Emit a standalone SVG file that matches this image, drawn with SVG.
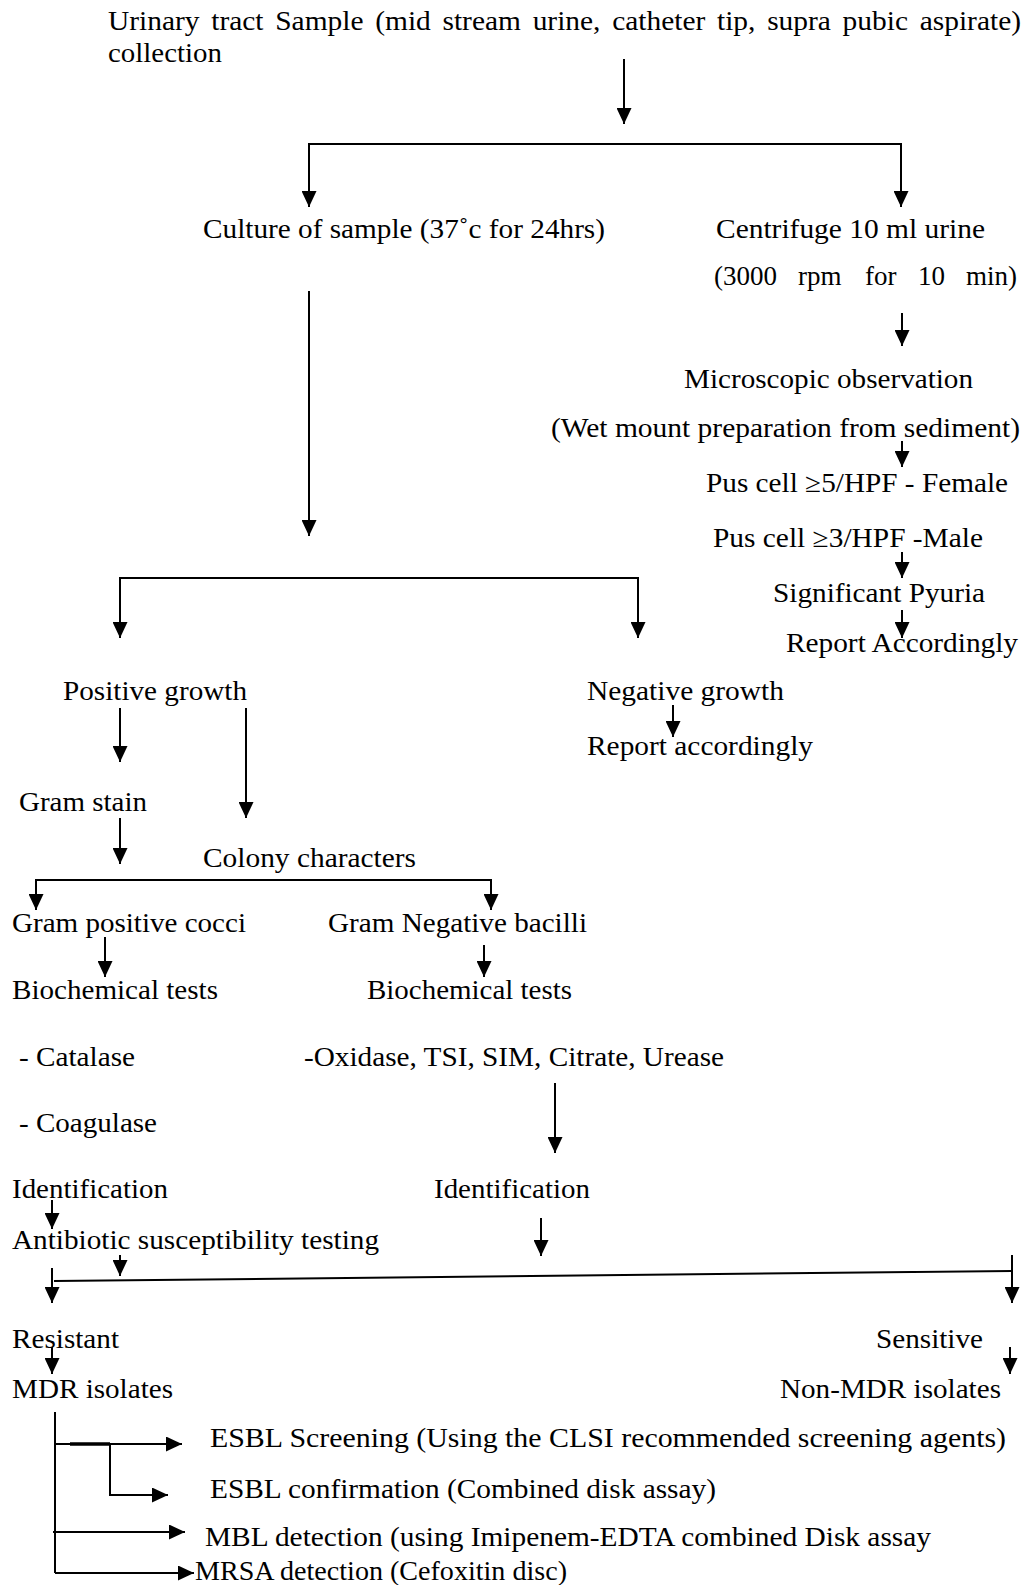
<svg xmlns="http://www.w3.org/2000/svg" width="1034" height="1585" viewBox="0 0 1034 1585" font-family="Liberation Serif, Times New Roman, serif" font-size="27">
<defs>
<marker id="ah" markerUnits="userSpaceOnUse" viewBox="0 0 16 15" markerWidth="16" markerHeight="15" refX="16" refY="7.5" orient="auto">
<path d="M0,0 L16,7.5 L0,15 z" fill="#000"/>
</marker>
<style>
text{fill:#000}
.c line,.c path,.c polyline{stroke:#000;stroke-width:2;fill:none}
.a{marker-end:url(#ah)}
</style>
</defs>
<rect width="1034" height="1585" fill="#fff"/>
<g id="n-sample">
<text x="108" y="30" textLength="913" lengthAdjust="spacingAndGlyphs" word-spacing="4">Urinary tract Sample (mid stream urine, catheter tip, supra pubic aspirate)</text>
<text x="108" y="62" textLength="114" lengthAdjust="spacingAndGlyphs">collection</text>
</g>
<g id="n-culture"><text x="203" y="238" textLength="402" lengthAdjust="spacingAndGlyphs">Culture of sample (37˚c for 24hrs)</text></g>
<g id="n-centrifuge">
<text x="716" y="238" textLength="269" lengthAdjust="spacingAndGlyphs">Centrifuge 10 ml urine</text>
<text y="285"><tspan x="714">(3000</tspan><tspan x="798">rpm</tspan><tspan x="865">for</tspan><tspan x="918">10</tspan><tspan x="966">min)</tspan></text>
</g>
<g id="n-micro">
<text x="684" y="388" textLength="289" lengthAdjust="spacingAndGlyphs">Microscopic observation</text>
<text x="551" y="437" textLength="469" lengthAdjust="spacingAndGlyphs">(Wet mount preparation from sediment)</text>
</g>
<g id="n-pus">
<text x="706" y="492" textLength="302" lengthAdjust="spacingAndGlyphs">Pus cell ≥5/HPF - Female</text>
<text x="713" y="547" textLength="270" lengthAdjust="spacingAndGlyphs">Pus cell ≥3/HPF -Male</text>
</g>
<g id="n-pyuria"><text x="773" y="602" textLength="212" lengthAdjust="spacingAndGlyphs">Significant Pyuria</text></g>
<g id="n-report1"><text x="786" y="652" textLength="232" lengthAdjust="spacingAndGlyphs">Report Accordingly</text></g>
<g id="n-positive"><text x="63" y="700" textLength="184" lengthAdjust="spacingAndGlyphs">Positive growth</text></g>
<g id="n-negative"><text x="587" y="700" textLength="197" lengthAdjust="spacingAndGlyphs">Negative growth</text></g>
<g id="n-report2"><text x="587" y="755" textLength="226" lengthAdjust="spacingAndGlyphs">Report accordingly</text></g>
<g id="n-gram"><text x="19" y="811" textLength="128" lengthAdjust="spacingAndGlyphs">Gram stain</text></g>
<g id="n-colony"><text x="203" y="867" textLength="213" lengthAdjust="spacingAndGlyphs">Colony characters</text></g>
<g id="n-gpc"><text x="12" y="932" textLength="234" lengthAdjust="spacingAndGlyphs">Gram positive cocci</text></g>
<g id="n-gnb"><text x="328" y="932" textLength="259" lengthAdjust="spacingAndGlyphs">Gram Negative bacilli</text></g>
<g id="n-bio1">
<text x="12" y="999" textLength="206" lengthAdjust="spacingAndGlyphs">Biochemical tests</text>
<text x="19" y="1066" textLength="116" lengthAdjust="spacingAndGlyphs">- Catalase</text>
<text x="19" y="1132" textLength="138" lengthAdjust="spacingAndGlyphs">- Coagulase</text>
</g>
<g id="n-bio2">
<text x="367" y="999" textLength="205" lengthAdjust="spacingAndGlyphs">Biochemical tests</text>
<text x="304" y="1066" textLength="420" lengthAdjust="spacingAndGlyphs">-Oxidase, TSI, SIM, Citrate, Urease</text>
</g>
<g id="n-ident1"><text x="12" y="1198" textLength="156" lengthAdjust="spacingAndGlyphs">Identification</text></g>
<g id="n-ident2"><text x="434" y="1198" textLength="156" lengthAdjust="spacingAndGlyphs">Identification</text></g>
<g id="n-ast"><text x="12" y="1249" textLength="367" lengthAdjust="spacingAndGlyphs">Antibiotic susceptibility testing</text></g>
<g id="n-resistant"><text x="12" y="1348" textLength="107" lengthAdjust="spacingAndGlyphs">Resistant</text></g>
<g id="n-sensitive"><text x="876" y="1348" textLength="107" lengthAdjust="spacingAndGlyphs">Sensitive</text></g>
<g id="n-mdr"><text x="12" y="1398" textLength="161" lengthAdjust="spacingAndGlyphs">MDR isolates</text></g>
<g id="n-nonmdr"><text x="780" y="1398" textLength="221" lengthAdjust="spacingAndGlyphs">Non-MDR isolates</text></g>
<g id="n-esbl1"><text x="210" y="1447" textLength="796" lengthAdjust="spacingAndGlyphs">ESBL Screening (Using the CLSI recommended screening agents)</text></g>
<g id="n-esbl2"><text x="210" y="1498" textLength="506" lengthAdjust="spacingAndGlyphs">ESBL confirmation (Combined disk assay)</text></g>
<g id="n-mbl"><text x="205" y="1546" textLength="726" lengthAdjust="spacingAndGlyphs">MBL detection (using Imipenem-EDTA combined Disk assay</text></g>
<g id="n-mrsa"><text x="195" y="1580" textLength="372" lengthAdjust="spacingAndGlyphs">MRSA detection (Cefoxitin disc)</text></g>
<g id="connectors" class="c">
<line class="a" x1="624" y1="59" x2="624" y2="124"/>
<polyline points="309,144 901,144"/>
<line class="a" x1="309" y1="143" x2="309" y2="207"/>
<line class="a" x1="901" y1="143" x2="901" y2="207"/>
<line class="a" x1="309" y1="291" x2="309" y2="536"/>
<line class="a" x1="902" y1="313" x2="902" y2="346"/>
<line class="a" x1="902" y1="441" x2="902" y2="467"/>
<line class="a" x1="902" y1="552" x2="902" y2="578"/>
<line class="a" x1="902" y1="610" x2="902" y2="638"/>
<polyline points="120,578 638,578"/>
<line class="a" x1="120" y1="577" x2="120" y2="638"/>
<line class="a" x1="638" y1="577" x2="638" y2="638"/>
<line class="a" x1="673" y1="705" x2="673" y2="737"/>
<line class="a" x1="120" y1="708" x2="120" y2="762"/>
<line class="a" x1="246" y1="708" x2="246" y2="818"/>
<line class="a" x1="120" y1="818" x2="120" y2="864"/>
<polyline points="36,880 491,880"/>
<line class="a" x1="36" y1="879" x2="36" y2="910"/>
<line class="a" x1="491" y1="879" x2="491" y2="910"/>
<line class="a" x1="105" y1="937" x2="105" y2="977"/>
<line class="a" x1="484" y1="945" x2="484" y2="977"/>
<line class="a" x1="555" y1="1083" x2="555" y2="1153"/>
<line class="a" x1="52" y1="1200" x2="52" y2="1229"/>
<line class="a" x1="541" y1="1218" x2="541" y2="1256"/>
<line class="a" x1="120" y1="1255" x2="120" y2="1276"/>
<line x1="54" y1="1281" x2="1012" y2="1271"/>
<line class="a" x1="1012" y1="1255" x2="1012" y2="1303"/>
<line class="a" x1="52" y1="1268" x2="52" y2="1303"/>
<line class="a" x1="52" y1="1347" x2="52" y2="1374"/>
<line class="a" x1="1010" y1="1347" x2="1010" y2="1374"/>
<line x1="55" y1="1412" x2="55" y2="1573"/>
<line class="a" x1="55" y1="1444" x2="182" y2="1444"/>
<line x1="70" y1="1444" x2="110" y2="1444" style="stroke-width:3.5"/>
<polyline class="a" points="110,1444 110,1495 168,1495"/>
<line class="a" x1="53" y1="1532" x2="185" y2="1532"/>
<line class="a" x1="55" y1="1573" x2="194" y2="1573"/>
</g>
</svg>
